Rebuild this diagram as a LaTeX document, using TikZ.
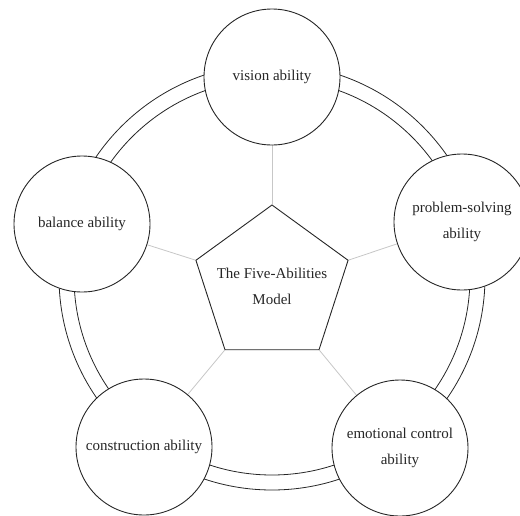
\documentclass[tikz,border=0pt]{standalone}
\usepackage{fontspec}
\setmainfont{Liberation Serif}
\usetikzlibrary{shapes.geometric}
\pgfdeclarelayer{background}
\pgfsetlayers{background,main}
\begin{document}
\begin{tikzpicture}[x=1pt,y=-1pt,
  ability/.style={circle,draw=black!85,line width=0.9pt,fill=white,minimum size=136pt,inner sep=0pt,align=center,text=black!85,font=\fontsize{15}{26}\selectfont},
  core/.style={regular polygon,regular polygon sides=5,draw=black!85,line width=0.9pt,fill=white,minimum size=160pt,inner sep=0pt},
  coretext/.style={inner sep=0pt,align=center,text=black!85,font=\fontsize{15}{26}\selectfont},
  spoke/.style={draw=black!22,line width=0.8pt},
  ringline/.style={draw=black!85,line width=0.8pt}]
\useasboundingbox (0,0) rectangle (520,515);
\clip (0,0) rectangle (520,515);
\node[core] (model) at (272,285) {};
\node[coretext] (modeltext) at (272,286) {The Five-Abilities\\Model};
\node[ability] (vision) at (272,77) {vision ability};
\node[ability] (balance) at (82,224) {balance ability};
\node[ability] (problem) at (462,222) {problem-solving\\ability};
\node[ability] (construction) at (144,447) {construction ability};
\node[ability] (emotional) at (400,448) {emotional control\\ability};
\coordinate (ringc) at (272,277);
\begin{pgfonlayer}{background}
  \draw[ringline] (ringc) circle[radius=198];
  \draw[ringline] (ringc) circle[radius=213];
  \draw[spoke] (model.corner 1) -- (vision);
  \draw[spoke] (model.corner 2) -- (balance);
  \draw[spoke] (model.corner 3) -- (construction);
  \draw[spoke] (model.corner 4) -- (emotional);
  \draw[spoke] (model.corner 5) -- (problem);
\end{pgfonlayer}
\end{tikzpicture}
\end{document}
